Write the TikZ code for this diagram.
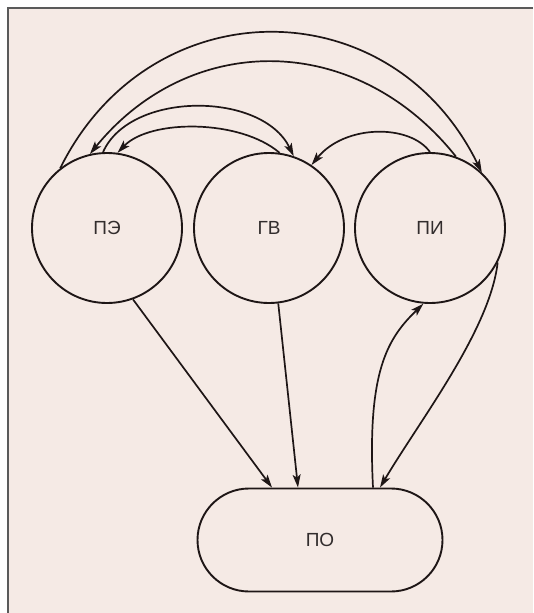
\documentclass[tikz,border=0pt]{standalone}
\usepackage{fontspec}
\setmainfont{Liberation Sans}
\usetikzlibrary{arrows.meta,shapes.misc}
\definecolor{bgpink}{RGB}{245,234,229}
\definecolor{framegray}{RGB}{90,90,90}
\definecolor{ink}{RGB}{30,22,22}
\definecolor{txt}{RGB}{50,45,45}
\tikzset{
  circ/.style={circle,draw=ink,line width=1.9pt,minimum size=150pt,inner sep=0pt,text=txt,font=\fontsize{19}{21}\selectfont},
  stad/.style={rounded rectangle,draw=ink,line width=1.9pt,minimum width=245pt,minimum height=103pt,inner sep=0pt,text=txt,font=\fontsize{19}{21}\selectfont},
  conn/.style={draw=ink,line width=1.7pt,-{Stealth[length=13pt,width=8pt,inset=3pt]}},
}
\begin{document}
\begin{tikzpicture}[x=1pt,y=-1pt]
\useasboundingbox (0,0) rectangle (533,613);
\fill[white] (0,0) rectangle (533,613);
\fill[bgpink] (8,8) rectangle (533,613);
\draw[framegray,line width=2pt] (8,613) -- (8,8) -- (533,8);

\node[circ] (pe) at (107,228) {ПЭ};
\node[circ] (gv) at (269,228) {ГВ};
\node[circ] (pi) at (430,228) {ПИ};
\node[stad] (po) at (320,540) {ПО};

% arcs on top
\draw[conn] (pe.128) .. controls (150,-13) and (391,-13) .. (pi.47);
\draw[conn] (pi.70) .. controls (356,31) and (190,31) .. (pe.103);
\draw[conn] (pe.93) .. controls (130,91) and (262,91) .. (gv.71);
\draw[conn] (gv.82) .. controls (240,119) and (150,119) .. (pe.82);
\draw[conn] (pi.90) .. controls (410,124) and (345,124) .. (gv.56);

% lines to PO
\draw[conn] (pe.-70) -- ([xshift=-48pt]po.north);
\draw[conn] (gv.-83) -- ([xshift=-22pt]po.north);
\draw[conn] ([xshift=53pt]po.north) .. controls (367,370) and (388,338) .. (pi.-95);
\draw[conn] (pi.-27) .. controls (490,330) and (420,420) .. ([xshift=60pt]po.north);
\end{tikzpicture}
\end{document}
